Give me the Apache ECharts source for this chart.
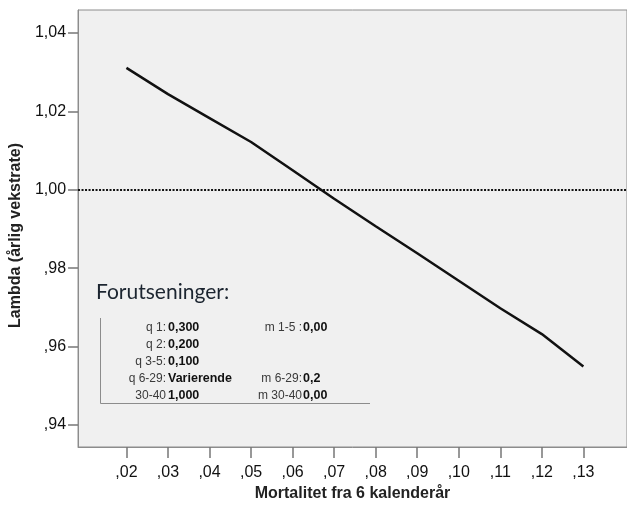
<!DOCTYPE html>
<html>
<head>
<meta charset="utf-8">
<script src="https://cdn.jsdelivr.net/npm/echarts@6.0.0/dist/echarts.min.js"></script>
<style>
html,body{margin:0;padding:0;background:#fff;}
#chart{width:627px;height:507px;}
</style>
</head>
<body>
<div id="chart"></div>
<script>
// Data
var mortality = [0.02, 0.03, 0.04, 0.05, 0.06, 0.07, 0.08, 0.09, 0.10, 0.11, 0.12, 0.13];
var lambda = [1.0311, 1.0244, 1.0183, 1.0122, 1.0050, 0.9977, 0.9907, 0.9838, 0.9768, 0.9698, 0.9632, 0.9549];
var xTicks = [0.02, 0.03, 0.04, 0.05, 0.06, 0.07, 0.08, 0.09, 0.10, 0.11, 0.12, 0.13];
var yTicks = [0.94, 0.96, 0.98, 1.00, 1.02, 1.04];
var refLine = 1.00;
var xTitle = 'Mortalitet fra 6 kalenderår';
var yTitle = 'Lambda (årlig vekstrate)';
var boxTitle = 'Forutseninger:';
var boxLeftLabels = ['q 1:', 'q 2:', 'q 3-5:', 'q 6-29:', '30-40'];
var boxLeftValues = ['0,300', '0,200', '0,100', 'Varierende', '1,000'];
var boxRightLabels = ['m 1-5 :', '', '', 'm 6-29:', 'm 30-40'];
var boxRightValues = ['0,00', '', '', '0,2', '0,00'];

function fmt(v) {
  var s = (+v).toFixed(2).replace('.', ',');
  if (s.indexOf('0,') === 0) s = s.slice(1);
  return s;
}

var chart = echarts.init(document.getElementById('chart'), null, {renderer: 'canvas'});
var seriesData = mortality.map(function (m, i) { return [m, lambda[i]]; });

var rowY = [328, 344.5, 361.5, 379, 396];
var graphics = [
  {type: 'text', left: 96, top: 282, style: {text: boxTitle, font: '21px Lato', fill: '#1c2530'}},
  {type: 'line', shape: {x1: 100.5, y1: 318, x2: 100.5, y2: 403.5}, style: {stroke: '#8c8c8c', lineWidth: 1}},
  {type: 'line', shape: {x1: 100.5, y1: 403.5, x2: 370, y2: 403.5}, style: {stroke: '#8c8c8c', lineWidth: 1}}
];
for (var i = 0; i < rowY.length; i++) {
  graphics.push({type: 'text', x: 166, y: rowY[i], style: {text: boxLeftLabels[i], font: '12px "Liberation Sans"', fill: '#3a3a3a', align: 'right', verticalAlign: 'middle'}});
  graphics.push({type: 'text', x: 168, y: rowY[i], style: {text: boxLeftValues[i], font: 'bold 12.5px "Liberation Sans"', fill: '#111', align: 'left', verticalAlign: 'middle'}});
  if (boxRightLabels[i]) {
    graphics.push({type: 'text', x: 302, y: rowY[i], style: {text: boxRightLabels[i], font: '12px "Liberation Sans"', fill: '#3a3a3a', align: 'right', verticalAlign: 'middle'}});
    graphics.push({type: 'text', x: 303, y: rowY[i], style: {text: boxRightValues[i], font: 'bold 12.5px "Liberation Sans"', fill: '#111', align: 'left', verticalAlign: 'middle'}});
  }
}

var option = {
  backgroundColor: '#ffffff',
  animation: false,
  grid: {
    left: 78, top: 10, right: 0, bottom: 60,
    show: true, backgroundColor: '#f0f0f0', borderColor: '#8c8c8c', borderWidth: 1,
    containLabel: false
  },
  xAxis: {
    type: 'value',
    min: 0.00835, max: 0.1405,
    name: xTitle, nameLocation: 'middle', nameGap: 39,
    nameTextStyle: {fontFamily: 'Liberation Sans', fontSize: 16, fontWeight: 'bold', color: '#222'},
    axisLine: {show: true, lineStyle: {color: '#8c8c8c', width: 1}},
    axisTick: {show: true, inside: false, length: 11, customValues: xTicks, lineStyle: {color: '#777', width: 1.5}},
    axisLabel: {customValues: xTicks, formatter: fmt, margin: 18, fontFamily: 'Liberation Sans', fontSize: 16, color: '#111'},
    splitLine: {show: false}
  },
  yAxis: {
    type: 'value',
    min: 0.93439, max: 1.04587,
    name: yTitle, nameLocation: 'middle', nameGap: 51,
    nameTextStyle: {fontFamily: 'Liberation Sans', fontSize: 16, fontWeight: 'bold', color: '#222', padding: [0, 14, 0, 0]},
    axisLine: {show: true, lineStyle: {color: '#8c8c8c', width: 1}},
    axisTick: {show: true, inside: false, length: 10, customValues: yTicks, lineStyle: {color: '#777', width: 1.5}},
    axisLabel: {customValues: yTicks, formatter: fmt, margin: 12, fontFamily: 'Liberation Sans', fontSize: 16, color: '#111'},
    splitLine: {show: false}
  },
  series: [{
    type: 'line',
    data: seriesData,
    showSymbol: false,
    symbol: 'none',
    smooth: false,
    lineStyle: {color: '#111', width: 2.5},
    markLine: {
      silent: true,
      symbol: ['none', 'none'],
      label: {show: false},
      lineStyle: {color: '#111', type: [2, 1.5], width: 2},
      data: [{yAxis: refLine}]
    },
    z: 3
  }],
  graphic: graphics
};
chart.setOption(option);
</script>
</body>
</html>
